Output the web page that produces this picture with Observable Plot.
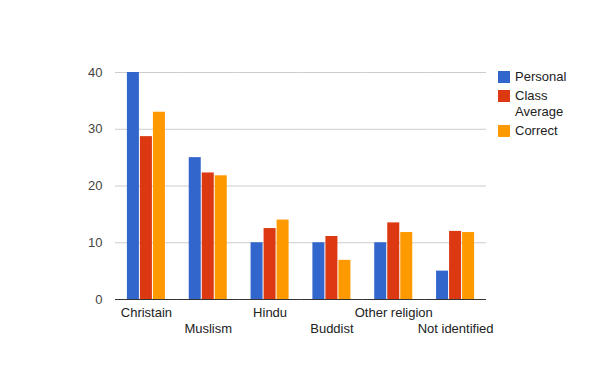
<!DOCTYPE html>
<html>
<head>
<meta charset="utf-8">
<script src="https://cdn.jsdelivr.net/npm/d3@7"></script>
<script src="https://cdn.jsdelivr.net/npm/@observablehq/plot@0.6"></script>
<style>
  html, body { margin: 0; padding: 0; background: #fff; }
  #wrap { position: relative; width: 600px; height: 371px; font-family: 'Liberation Sans', Arial, sans-serif; font-size: 13px; color: #222; }
  .lg { position: absolute; left: 498px; }
  .sw { position: absolute; left: 0; width: 12px; height: 12px; }
  .lt { position: absolute; left: 17px; width: 70px; line-height: 16px; white-space: normal; }
</style>
</head>
<body>
<div id="wrap"></div>
<script>
const categories = ["Christain", "Muslism", "Hindu", "Buddist", "Other religion", "Not identified"];
const series = ["Personal", "Class Average", "Correct"];
const personal = [40, 25, 10, 10, 10, 5];
const classAverage = [28.7, 22.3, 12.5, 11.1, 13.5, 12.0];
const correct = [33, 21.8, 14, 6.9, 11.8, 11.8];
const colors = ["#3366cc", "#dc3912", "#ff9900"];
const yTicks = [0, 10, 20, 30, 40];

const valuesBySeries = [personal, classAverage, correct];
const data = [];
categories.forEach((c, i) => {
  series.forEach((s, j) => data.push({category: c, series: s, value: valuesBySeries[j][i]}));
});

const chart = Plot.plot({
  width: 600,
  height: 371,
  marginTop: 72,
  marginBottom: 72,
  marginLeft: 115,
  marginRight: 114,
  style: {fontFamily: "'Liberation Sans', Arial, sans-serif", fontSize: "13px", background: "#fff"},
  fx: {domain: categories, padding: 0, axis: null, round: false},
  x: {domain: series, paddingInner: 1 / 13, paddingOuter: 0.915, axis: null, round: false},
  y: {domain: [0, 40], axis: null},
  color: {domain: series, range: colors},
  marks: [
    Plot.gridY(yTicks, {stroke: "#cccccc", strokeOpacity: 1}),
    Plot.barY(data, {fx: "category", x: "series", y: "value", fill: "series"}),
    Plot.ruleY([0], {stroke: "#333333"}),
    Plot.axisY(yTicks, {tickSize: 0, tickPadding: 13, color: "#444444", fontSize: 13, label: null}),
    Plot.text(categories.filter((d, i) => i % 2 === 0), {fx: d => d, text: d => d, frameAnchor: "bottom", dy: 17, fill: "#222222", fontSize: 13}),
    Plot.text(categories.filter((d, i) => i % 2 === 1), {fx: d => d, text: d => d, frameAnchor: "bottom", dy: 33, fill: "#222222", fontSize: 13})
  ]
});
const wrap = document.getElementById("wrap");
wrap.appendChild(chart);

const legendTops = [69, 88, 123];
series.forEach((s, i) => {
  const item = document.createElement("div");
  item.className = "lg";
  item.style.top = legendTops[i] + "px";
  const sw = document.createElement("div");
  sw.className = "sw";
  sw.style.background = colors[i];
  sw.style.top = "2px";
  const t = document.createElement("div");
  t.className = "lt";
  t.textContent = s;
  item.appendChild(sw);
  item.appendChild(t);
  wrap.appendChild(item);
});
</script>
</body>
</html>
